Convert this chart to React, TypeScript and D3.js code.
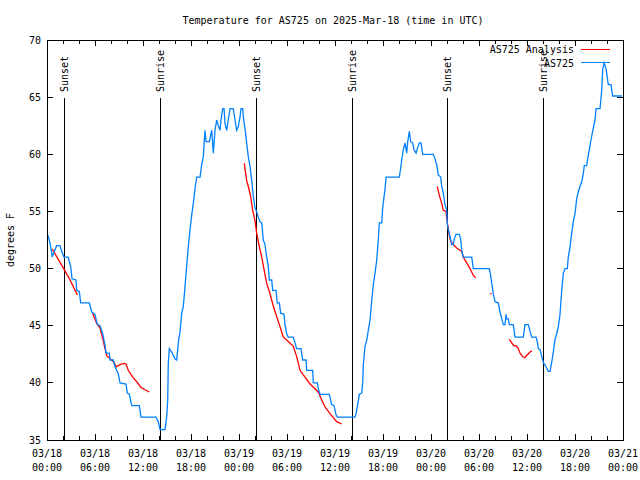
import React from "react";
import * as d3 from "d3";

const TITLE = "Temperature for AS725 on 2025-Mar-18 (time in UTC)";
const Y_LABEL = "degrees F";
const Y_TICKS = [35, 40, 45, 50, 55, 60, 65, 70];
const SERIES_NAMES = ["AS725 Analysis", "AS725"];

// hours after 2025-03-18 00:00 UTC
const obsHours = [
  0.06, 0.29, 0.46, 0.66, 0.79, 1.21, 1.63, 1.79, 1.96, 2.13, 2.66, 2.79, 2.96, 3.13, 3.63, 3.71, 4.04, 4.21,
  5.29, 5.59, 6.0, 6.29, 6.63, 6.96, 7.25, 7.38, 7.79, 7.88, 8.29, 8.5, 8.71, 8.91, 9.13, 9.88, 10.04, 10.29,
  10.59, 11.54, 11.75, 13.63, 13.91, 14.13, 14.75, 14.96, 15.09, 15.16, 15.29, 15.59, 16.0, 16.21, 16.41,
  16.63, 16.84, 17.04, 17.25, 17.46, 17.66, 17.88, 18.09, 18.29, 18.5, 18.71, 19.13, 19.34, 19.54, 19.66,
  19.75, 19.88, 20.29, 20.46, 20.59, 20.79, 21.0, 21.21, 21.41, 21.63, 21.75, 21.96, 22.13, 22.25, 22.46,
  22.66, 22.88, 23.29, 23.5, 23.71, 23.91, 24.13, 24.25, 24.46, 24.54, 24.75, 24.96, 25.16, 25.38, 25.59,
  25.79, 26.0, 26.21, 26.41, 26.63, 26.84, 27.04, 27.25, 27.46, 27.66, 27.79, 28.09, 28.21, 28.63, 28.79,
  29.04, 29.21, 29.63, 29.75, 29.96, 30.16, 30.79, 31.0, 31.21, 31.75, 31.96, 32.38, 32.46, 33.21, 33.29,
  33.79, 33.91, 34.13, 35.29, 35.59, 35.88, 36.13, 36.29, 38.5, 38.63, 38.91, 39.04, 39.34, 39.46, 39.54,
  39.75, 39.96, 40.16, 40.38, 40.59, 40.79, 41.0, 41.21, 41.41, 41.54, 41.84, 41.96, 42.13, 42.25, 42.38,
  44.04, 44.21, 44.34, 44.54, 44.75, 44.96, 45.09, 45.29, 45.46, 45.71, 45.88, 46.13, 46.29, 46.54, 46.75,
  46.96, 48.29, 48.5, 48.71, 48.91, 49.21, 49.34, 49.54, 49.75, 49.96, 50.04, 50.16, 50.38, 50.59, 50.79,
  50.91, 51.13, 51.54, 51.71, 51.84, 52.04, 53.09, 53.29, 55.29, 55.46, 55.59, 55.79, 56.0, 56.41, 56.63,
  56.84, 57.04, 57.25, 57.38, 57.46, 57.66, 57.79, 58.29, 58.5, 59.54, 59.75, 60.16, 60.38, 60.59, 61.13,
  61.29, 61.41, 61.63, 61.84, 62.04, 62.46, 62.66, 62.88, 63.09, 63.29, 63.5, 63.71, 63.91, 64.13, 64.34,
  64.54, 64.75, 65.04, 65.16, 65.38, 65.59, 65.79, 66.0, 66.21, 66.41, 66.63, 66.84, 67.04, 67.16, 67.46,
  67.66, 67.88, 68.09, 68.29, 68.5, 68.63, 69.13, 69.34, 69.46, 69.63, 69.88, 70.16, 70.5, 70.71, 71.88,
];
const obsTemps = [
  53.0, 52.5, 51.9, 51.0, 51.3, 52.0, 52.0, 51.6, 51.3, 51.0, 51.0, 50.6, 50.2, 49.1, 49.0, 48.1, 48.0, 47.0,
  47.0, 46.2, 46.0, 45.1, 45.0, 44.3, 43.3, 42.6, 42.6, 42.0, 42.0, 41.4, 41.1, 40.8, 40.0, 39.9, 39.1, 39.0,
  38.0, 38.0, 37.0, 37.0, 36.6, 35.9, 35.9, 37.0, 38.5, 41.7, 43.0, 42.7, 42.1, 42.0, 43.5,
  44.5, 46.1, 46.7, 48.4, 50.2, 51.9, 53.4, 54.7, 55.7, 57.0, 58.0, 58.0, 59.1, 59.8, 61.2,
  62.1, 61.1, 61.1, 61.7, 62.1, 60.1, 62.1, 63.0, 62.5, 62.1, 63.0, 64.0, 64.0, 62.7, 62.1,
  63.0, 64.0, 64.0, 63.0, 62.1, 62.4, 63.3, 64.0, 64.0, 63.3, 62.2, 61.0, 59.8, 58.9, 57.7,
  56.3, 55.3, 55.0, 54.5, 54.1, 54.0, 52.5, 52.1, 51.0, 50.2, 49.0, 49.0, 48.1, 48.1, 47.0,
  47.0, 46.1, 46.0, 45.1, 44.3, 44.0, 44.0, 43.5, 43.0, 43.0, 42.0, 42.0, 41.1, 41.1, 40.0,
  40.0, 39.5, 39.0, 39.0, 38.1, 38.0, 37.2, 37.0, 37.0, 37.3, 38.4, 39.0, 39.1, 40.0, 41.6,
  43.2, 43.7, 44.6, 45.5, 47.2, 48.6, 49.6, 50.7, 52.5, 54.0, 54.0, 55.3, 56.3, 56.9, 58.0,
  58.0, 58.8, 59.5, 60.4, 61.0, 60.1, 61.1, 62.0, 61.1, 61.0, 60.4, 60.1, 60.5, 61.0, 61.0,
  60.0, 60.0, 59.6, 59.1, 58.2, 58.0, 57.2, 56.6, 55.6, 55.1, 53.9, 53.4, 52.8, 52.1, 52.1,
  52.6, 53.0, 53.0, 52.6, 51.6, 51.0, 51.0, 50.0, 50.0, 49.4, 48.7, 47.8, 47.1, 47.0, 46.2,
  45.6, 45.1, 45.1, 46.0, 45.6, 45.6, 45.1, 45.1, 44.0, 44.0, 45.1, 45.1, 44.5, 44.0, 44.0,
  43.6, 43.0, 42.9, 42.3, 41.8, 41.3, 41.0, 41.0, 41.8, 42.7, 43.8, 44.3, 44.9, 46.0, 48.1,
  49.6, 50.0, 50.0, 51.0, 51.9, 53.1, 54.1, 54.8, 56.1, 56.7, 57.2, 57.6, 58.3, 59.0, 59.0,
  59.9, 60.8, 61.6, 62.3, 63.0, 64.0, 64.0, 65.6, 67.4, 68.0, 67.5, 66.1, 66.1, 65.1, 65.1,
];

// analysis series, NaN marks a gap
const anaHours = [
  0.66, 2.25, 2.88, 3.79, NaN,
  5.71, 6.21, 6.63, 6.96, 7.25, 7.46, 7.88, 8.38, 8.63, 9.13, 9.63, 9.88, 10.16, 10.71, 11.21, 11.75, 12.25, 12.79, NaN,
  24.66, 24.96, 25.16, 25.46, 25.71, 26.0, 26.21, 26.54, 26.84, 27.13, 27.46, 27.88, 28.29, 28.71, 29.13, 29.54,
  29.96, 30.79, 31.21, 31.63, 32.04, 32.88, 33.91, 34.34, 34.75, 35.38, 36.21, 36.84, NaN,
  48.79, 49.04, 49.34, 49.54, 49.88, 49.96, 50.09, 50.29, 50.46, 50.79, 51.21, 51.63, 51.84, 52.04, 52.46,
  52.88, 53.29, 53.59, NaN,
  55.41, 55.59, NaN,
  57.79, 58.29, 58.71, 58.91, 59.13, 59.46, 59.75, 59.96, 60.38, 60.59,
];
const anaTemps = [
  51.7, 49.8, 49.0, 47.7, NaN,
  46.1, 45.2, 44.8, 43.9, 43.0, 42.4, 42.1, 41.8, 41.4, 41.6, 41.7, 41.65, 41.1, 40.5, 40.1, 39.6, 39.4, 39.2, NaN,
  59.2, 57.7, 57.2, 56.3, 55.1, 54.2, 53.1, 51.9, 51.0, 49.9, 48.7, 47.8, 46.7, 45.8, 44.9, 44.0,
  43.75, 43.2, 42.3, 41.1, 40.7, 39.9, 39.2, 38.5, 37.9, 37.3, 36.6, 36.4, NaN,
  57.2, 56.4, 55.7, 55.1, 55.0, 54.4, 53.8, 52.9, 52.4, 52.1, 51.8, 51.6, 51.5, 51.0, 50.5,
  50.0, 49.4, 49.2, NaN,
  47.8, 47.8, NaN,
  43.8, 43.3, 43.2, 43.0, 42.6, 42.3, 42.2, 42.4, 42.7, 42.8,
];

const sunLabels = ["Sunset", "Sunrise", "Sunset", "Sunrise", "Sunset", "Sunrise"];
const sunHours = [2.13, 14.13, 26.13, 38.13, 50.0, 62.0];

const BASE = Date.UTC(2025, 2, 18);
const toDate = (h: number) => new Date(BASE + h * 3600 * 1000);

const FONT = "'DejaVu Sans Mono', monospace";
const BLUE = "#0080ff";
const RED = "#ff0000";

export default function App() {
  const W = 640, H = 480;
  const left = 47, right = 623, top = 40, bottom = 440;
  const x = d3.scaleUtc().domain([toDate(0), toDate(72)]).range([left, right]);
  const y = d3.scaleLinear().domain([35, 70]).range([bottom, top]);

  const obs = obsHours.map((h, i) => ({ d: toDate(h), v: obsTemps[i] }));
  const ana = anaHours.map((h, i) => ({ d: isNaN(h) ? null : toDate(h), v: anaTemps[i] }));

  const lineObs = d3.line<{ d: Date; v: number }>().x((p) => x(p.d)).y((p) => y(p.v));
  const lineAna = d3
    .line<{ d: Date | null; v: number }>()
    .defined((p) => p.d !== null && !isNaN(p.v))
    .x((p) => x(p.d as Date))
    .y((p) => y(p.v));

  const minorTicks = d3.utcHour.every(2)!.range(toDate(0), toDate(72.01));
  const majorTicks = d3.utcHour.every(6)!.range(toDate(0), toDate(72.01));
  const fmtDate = d3.utcFormat("%m/%d");
  const fmtTime = d3.utcFormat("%H:%M");

  return (
    <svg
      width={W}
      height={H}
      style={{ position: "absolute", left: 0, top: 0, background: "#fff" }}
      fontFamily={FONT}
      fontSize={10}
    >
      <rect x={0} y={0} width={W} height={H} fill="#fff" />
      <text x={333} y={24} textAnchor="middle" fill="#000">{TITLE}</text>
      <text
        transform={`translate(14,${(top + bottom) / 2}) rotate(-90)`}
        textAnchor="middle"
        fill="#000"
      >
        {Y_LABEL}
      </text>

      {/* y ticks */}
      {Y_TICKS.map((t) => (
        <g key={`y${t}`}>
          <line x1={left} x2={left + 6} y1={y(t)} y2={y(t)} stroke="#000" shapeRendering="crispEdges" />
          <line x1={right} x2={right - 6} y1={y(t)} y2={y(t)} stroke="#000" shapeRendering="crispEdges" />
          <text x={left - 6} y={y(t)} dy="0.35em" textAnchor="end" fill="#000">{t}</text>
        </g>
      ))}

      {/* x ticks */}
      {minorTicks.map((t, i) => {
        const isMajor = t.getUTCHours() % 6 === 0;
        const len = isMajor ? 6 : 4;
        return (
          <g key={`xm${i}`}>
            <line x1={x(t)} x2={x(t)} y1={bottom} y2={bottom - len} stroke="#000" shapeRendering="crispEdges" />
            <line x1={x(t)} x2={x(t)} y1={top} y2={top + len} stroke="#000" shapeRendering="crispEdges" />
          </g>
        );
      })}
      {majorTicks.map((t, i) => (
        <g key={`xl${i}`}>
          <text x={x(t)} y={457} textAnchor="middle" fill="#000">{fmtDate(t)}</text>
          <text x={x(t)} y={471} textAnchor="middle" fill="#000">{fmtTime(t)}</text>
        </g>
      ))}

      {/* sunrise / sunset markers */}
      {sunHours.map((h, i) => (
        <g key={`s${i}`}>
          <line
            x1={Math.round(x(toDate(h))) + 0.5}
            x2={Math.round(x(toDate(h))) + 0.5}
            y1={98}
            y2={bottom}
            stroke="#000"
            shapeRendering="crispEdges"
          />
          <text
            transform={`translate(${Math.round(x(toDate(h))) + 4},92) rotate(-90)`}
            textAnchor="start"
            fill="#000"
          >
            {sunLabels[i]}
          </text>
        </g>
      ))}

      {/* data */}
      <path d={lineAna(ana) || ""} fill="none" stroke={RED} strokeWidth={1.3} />
      <path d={lineObs(obs) || ""} fill="none" stroke={BLUE} strokeWidth={1.3} />

      {/* legend */}
      <text x={574} y={49} dy="0.35em" textAnchor="end" fill="#000">{SERIES_NAMES[0]}</text>
      <line x1={581} x2={610} y1={49.5} y2={49.5} stroke={RED} shapeRendering="crispEdges" />
      <text x={574} y={63} dy="0.35em" textAnchor="end" fill="#000">{SERIES_NAMES[1]}</text>
      <line x1={581} x2={610} y1={62.5} y2={62.5} stroke={BLUE} shapeRendering="crispEdges" />

      {/* frame */}
      <rect
        x={left + 0.5}
        y={top + 0.5}
        width={right - left}
        height={bottom - top}
        fill="none"
        stroke="#000"
        shapeRendering="crispEdges"
      />
    </svg>
  );
}
